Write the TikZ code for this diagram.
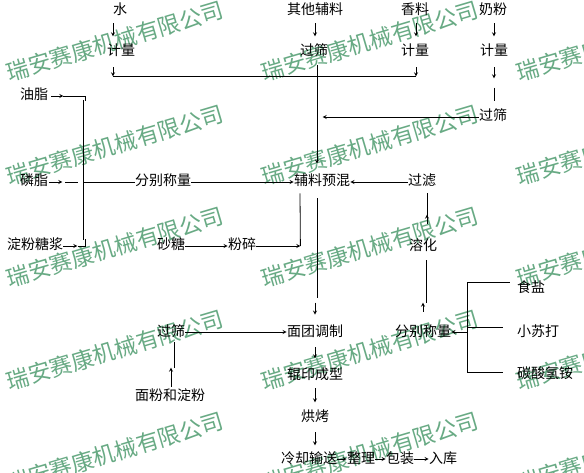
\documentclass[tikz,border=0pt]{standalone}
\usepackage{fontspec}
\newfontfamily\cjk{Noto Sans CJK SC}
\usetikzlibrary{arrows}
\definecolor{wmgreen}{RGB}{104,170,132}

\begin{document}
\begin{tikzpicture}[x=1pt,y=-1pt,line width=0.8pt,>=stealth,
  lbl/.style={inner sep=0pt,text height=11pt,text depth=3pt,font=\cjk\fontsize{14}{14}\selectfont},
  wmark/.style={inner sep=0pt,text=wmgreen,rotate=16.5,font=\cjk\fontsize{22.5}{22.5}\selectfont}]
  % page
  \fill[white] (0,0) rectangle (584,473);
  \useasboundingbox (0,0) rectangle (584,473);

  % watermark
  \foreach \wy in {41,145,247,350,452}
    \foreach \wx in {115,370,625}
      \node[wmark] (wm-\wx-\wy) at (\wx,\wy) {瑞安赛康机械有限公司};

  % raw materials on top
  \node[lbl] (shui) at (120,11) {水};
  \node[lbl] (qita) at (315,11) {其他辅料};
  \node[lbl] (xiang) at (415,11) {香料};
  \node[lbl] (nai) at (493,11) {奶粉};
  \node[lbl] (jl1) at (121,52) {计量};
  \node[lbl] (gs1) at (314,52) {过筛};
  \node[lbl] (jl2) at (415,52) {计量};
  \node[lbl] (jl3) at (494,52) {计量};
  \node[lbl] (gs2) at (493,117) {过筛};
  % left column
  \node[lbl] (youzhi) at (34,96) {油脂};
  \node[lbl] (linzhi) at (34,182) {磷脂};
  \node[lbl] (tangjiang) at (35,246) {淀粉糖浆};
  \node[lbl] (fbcl1) at (163,182) {分别称量};
  \node[lbl] (shatang) at (171,246) {砂糖};
  \node[lbl] (fensui) at (242,246) {粉碎};
  % premix
  \node[lbl] (yuhun) at (322,182) {辅料预混};
  \node[lbl] (guolv) at (422,182) {过滤};
  \node[lbl] (ronghua) at (423,247) {溶化};
  % leavening agents
  \node[lbl] (fbcl2) at (423,332) {分别称量};
  \node[lbl] (shiyan) at (531,289) {食盐};
  \node[lbl] (sudada) at (538,332) {小苏打};
  \node[lbl] (tansuan) at (545,374) {碳酸氢铵};
  % dough line
  \node[lbl] (gs3) at (171,332) {过筛};
  \node[lbl] (mianfen) at (170,396) {面粉和淀粉};
  \node[lbl] (tiaozhi) at (315,332) {面团调制};
  \node[lbl] (chengxing) at (315,375) {辊印成型};
  \node[lbl] (hongkao) at (315,417) {烘烤};
  \node[lbl] (lengque) at (309,459) {冷却输送};
  \node[lbl] (zhengli) at (361,459) {整理};
  \node[lbl] (baozhuang) at (400,459) {包装};
  \node[lbl] (ruku) at (443,459) {入库};

  % top arrows
  \draw[->] ([shift={(-7,5)}]shui.south) -- ++(0,13);
  \draw[->] ([shift={(0,5)}]qita.south) -- ++(0,13);
  \draw[->] ([shift={(1,5)}]xiang.south) -- ++(0,13);
  \draw[->] ([shift={(1,5)}]nai.south) -- ++(0,13);
  % collecting line under the weighing
  \coordinate (hl) at ([shift={(-8,17)}]jl1.south);
  \coordinate (hr) at ([shift={(1,17)}]jl2.south);
  \draw[->] ([shift={(-8,8)}]jl1.south) -- (hl);
  \draw[->] ([shift={(1,8)}]jl2.south) -- (hr);
  \draw (hl) -- (hr);
  \draw[->] ([shift={(3,6)}]gs1.south) -- ([shift={(-5,-11)}]yuhun.north);
  % milk powder
  \draw[->] ([shift={(0,8)}]jl3.south) -- ++(0,11);
  \draw ([shift={(1,-22)}]gs2.north) -- ++(0,13);
  \draw[->] (gs2.west) -- ++(-156,0);

  % oil, lecithin, syrup
  \draw[->] ([shift={(3,0)}]youzhi.east) -- ++(12,0);
  \draw ([shift={(15,0)}]youzhi.east) -- ++(22,0) -- ++(0,5);
  \draw[->] ([shift={(1,0)}]linzhi.east) -- ++(13,0);
  \draw ([shift={(17,0)}]linzhi.east) -- ++(13,0);
  \draw[->] (tangjiang.east) -- ++(14,0);
  \draw ([shift={(15,0)}]tangjiang.east) -- ++(7,0) -- ++(0,-7);
  \draw ([shift={(35,4)}]youzhi.east) -- ([shift={(20,-6)}]tangjiang.east);
  \draw ([shift={(35,0)}]linzhi.east) -- (fbcl1.west);
  \draw[->] (fbcl1.east) -- (yuhun.west);
  \draw[->] (guolv.west) -- (yuhun.east);
  % sugar
  \draw[->] (shatang.east) -- (fensui.west);
  \draw[->] (fensui.east) -- ++(44,0);
  \draw ([shift={(44,0)}]fensui.east) -- ([shift={(-22,4)}]yuhun.south);
  % dissolving
  \draw ([shift={(5,4)}]guolv.south) -- ([shift={(4,-18)}]ronghua.north);
  \draw[->] ([shift={(4,-16)}]ronghua.north) -- ++(0,-9);
  \draw ([shift={(3,6)}]ronghua.south) -- ([shift={(3,-22)}]fbcl2.north);
  \draw[->] ([shift={(0,-13)}]fbcl2.north) -- ++(0,-9);
  % bracket of salt, soda, ammonium
  \coordinate (bt) at ([shift={(-49,-7)}]shiyan.west);
  \coordinate (bb) at ([shift={(-49,-2)}]tansuan.west);
  \draw ([shift={(-7,-7)}]shiyan.west) -- (bt) -- (bb) -- ([shift={(-14,-2)}]tansuan.west);
  \draw ([shift={(-14,-5)}]sudada.west) -- ([shift={(-49,-5)}]sudada.west);
  \draw[->] ([shift={(-50,0)}]sudada.west) -- (fbcl2.east);

  % dough and baking
  \draw[->] (gs3.east) -- (tiaozhi.west);
  \draw[->] ([shift={(1,-2)}]mianfen.north) -- ++(0,-19);
  \draw ([shift={(3,3)}]gs3.south) -- ++(0,26);
  \draw ([shift={(-5,9)}]yuhun.south) -- ++(0,100);
  \draw[->] ([shift={(0,-22)}]tiaozhi.north) -- ++(0,12);
  \draw[->] ([shift={(0,8)}]tiaozhi.south) -- ++(0,11);
  \draw[->] ([shift={(0,6)}]chengxing.south) -- ++(0,14);
  \draw[->] ([shift={(0,8)}]hongkao.south) -- ++(0,13);
  \draw[->] (lengque.east) -- (zhengli.west);
  \draw[->] (zhengli.east) -- (baozhuang.west);
  \draw[->] (baozhuang.east) -- (ruku.west);
\end{tikzpicture}
\end{document}
